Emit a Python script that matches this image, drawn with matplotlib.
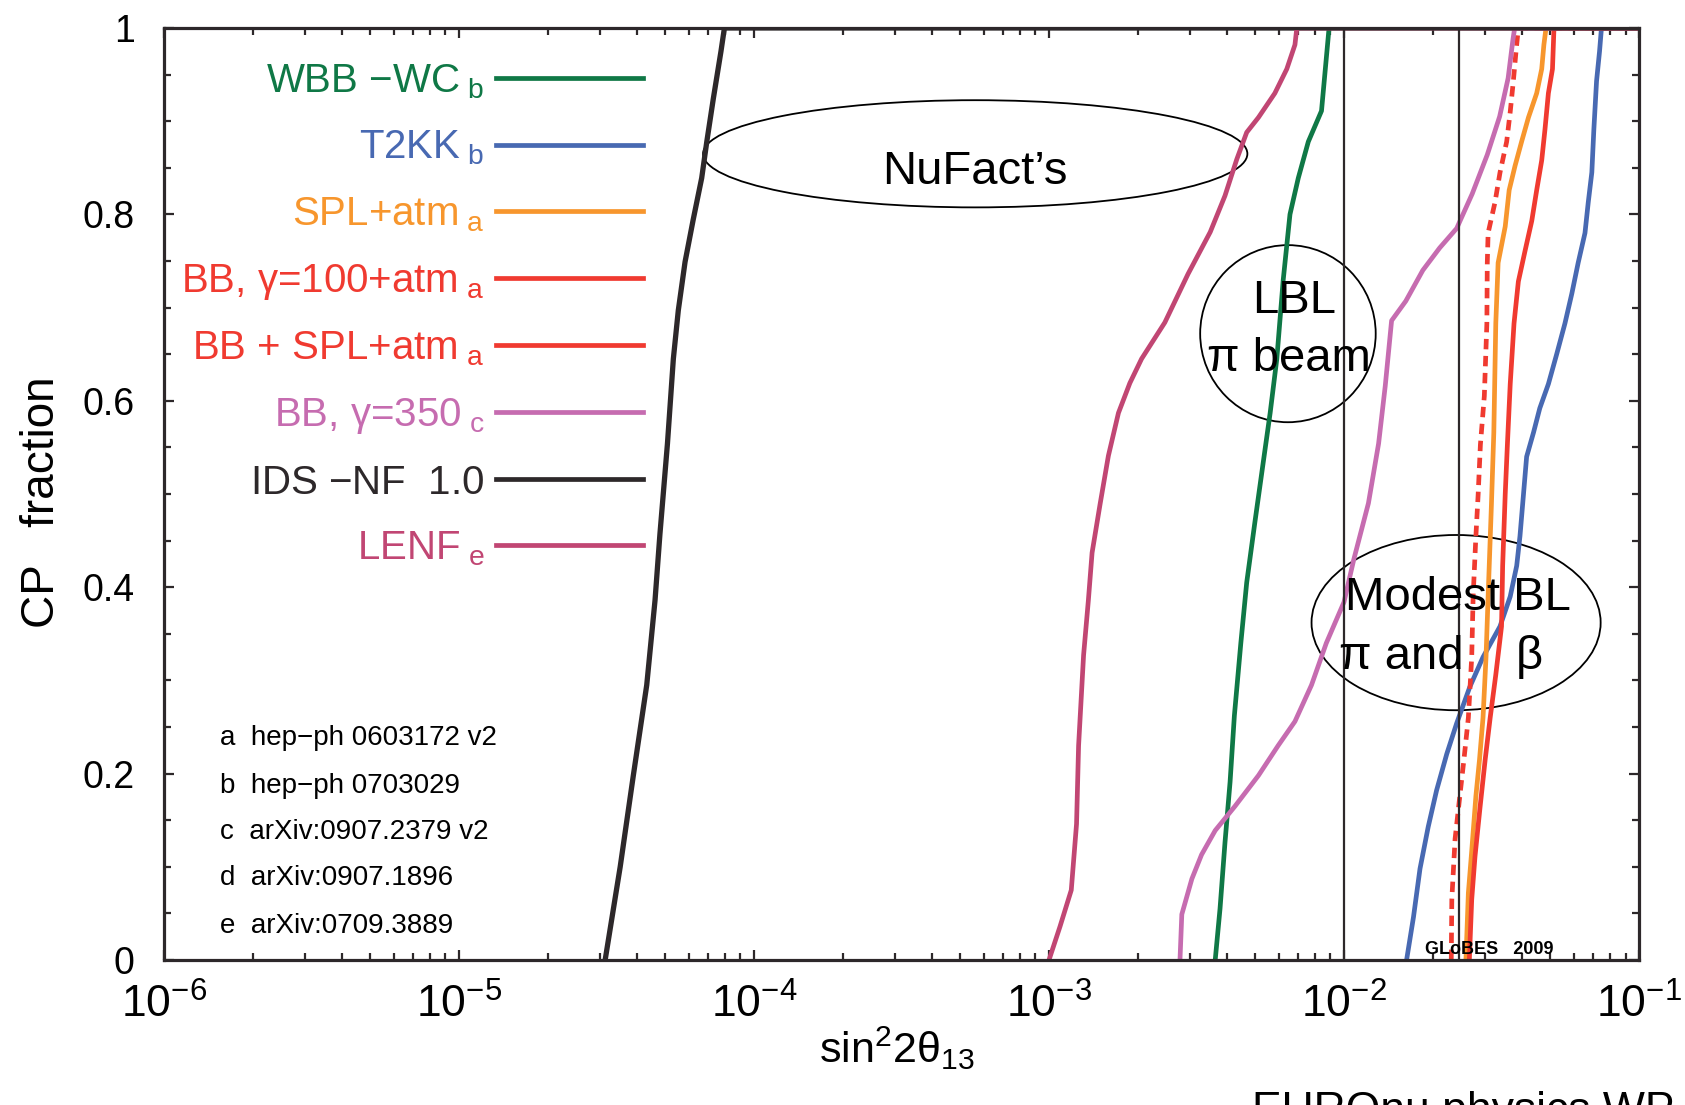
import matplotlib
matplotlib.use("Agg")
import matplotlib.pyplot as plt
from matplotlib.lines import Line2D
from matplotlib.patches import Ellipse
from matplotlib.ticker import MultipleLocator, LogLocator, NullFormatter

plt.rcParams['font.family'] = ['Liberation Sans', 'DejaVu Sans']
plt.rcParams['mathtext.fontset'] = 'custom'
plt.rcParams['mathtext.rm'] = 'Liberation Sans'
plt.rcParams['mathtext.it'] = 'Liberation Sans:italic'
plt.rcParams['mathtext.bf'] = 'Liberation Sans:bold'

# sin^2 2theta13 reach vs CP fraction
wbb_f = [0.0, 0.055, 0.126, 0.191, 0.262, 0.34, 0.405, 0.47, 0.535, 0.587, 0.645,
         0.729, 0.80, 0.839, 0.878, 0.911, 0.95, 1.0, 1.0]
wbb_x = [3.66e-3, 3.80e-3, 3.95e-3, 4.11e-3, 4.25e-3, 4.47e-3, 4.68e-3, 4.99e-3, 5.33e-3,
         5.62e-3, 5.92e-3, 6.22e-3, 6.56e-3, 7.00e-3, 7.57e-3, 8.39e-3, 8.61e-3, 8.9e-3, 0.1]

t2kk_f = [0.0, 0.046, 0.098, 0.143, 0.182, 0.221, 0.254, 0.293, 0.325, 0.358, 0.39, 0.423,
          0.455, 0.50, 0.54, 0.566, 0.592, 0.618, 0.65, 0.683, 0.715, 0.748, 0.78, 0.813,
          0.845, 0.891, 0.943, 0.975, 1.0, 1.0]
t2kk_x = [1.63e-2, 1.72e-2, 1.81e-2, 1.93e-2, 2.06e-2, 2.23e-2, 2.41e-2, 2.67e-2, 2.96e-2,
          3.38e-2, 3.66e-2, 3.85e-2, 3.95e-2, 4.06e-2, 4.16e-2, 4.39e-2, 4.61e-2, 4.93e-2,
          5.26e-2, 5.61e-2, 5.92e-2, 6.22e-2, 6.56e-2, 6.73e-2, 6.92e-2, 7.03e-2, 7.18e-2,
          7.35e-2, 7.46e-2, 0.1]

spl_f = [0.0, 0.072, 0.117, 0.176, 0.215, 0.26, 0.325, 0.39, 0.488, 0.566, 0.683, 0.748,
         0.787, 0.826, 0.852, 0.878, 0.904, 0.93, 0.956, 0.982, 1.0, 1.0]
spl_x = [2.59e-2, 2.64e-2, 2.71e-2, 2.80e-2, 2.88e-2, 2.96e-2, 3.03e-2, 3.08e-2, 3.16e-2,
         3.22e-2, 3.27e-2, 3.33e-2, 3.52e-2, 3.63e-2, 3.80e-2, 4.00e-2, 4.22e-2, 4.50e-2,
         4.68e-2, 4.76e-2, 4.84e-2, 0.1]

bb100_f = [0.0, 0.065, 0.111, 0.163, 0.215, 0.26, 0.306, 0.358, 0.423, 0.50, 0.553, 0.618,
           0.683, 0.728, 0.761, 0.793, 0.826, 0.858, 0.891, 0.93, 0.956, 1.0, 1.0]
bb100_x = [2.66e-2, 2.71e-2, 2.78e-2, 2.89e-2, 3.01e-2, 3.13e-2, 3.27e-2, 3.42e-2, 3.45e-2,
           3.52e-2, 3.58e-2, 3.66e-2, 3.77e-2, 3.90e-2, 4.11e-2, 4.33e-2, 4.50e-2, 4.68e-2,
           4.80e-2, 4.93e-2, 5.09e-2, 5.15e-2, 0.1]

bbspl_f = [0.0, 0.065, 0.13, 0.176, 0.215, 0.26, 0.325, 0.39, 0.455, 0.50, 0.553, 0.605,
           0.683, 0.748, 0.78, 0.813, 0.845, 0.878, 0.91, 0.943, 0.975, 1.0, 1.0]
bbspl_x = [2.31e-2, 2.32e-2, 2.38e-2, 2.47e-2, 2.55e-2, 2.64e-2, 2.71e-2, 2.74e-2, 2.80e-2,
           2.85e-2, 2.90e-2, 2.99e-2, 3.05e-2, 3.06e-2, 3.08e-2, 3.25e-2, 3.38e-2, 3.56e-2,
           3.66e-2, 3.75e-2, 3.83e-2, 3.90e-2, 0.1]

bb350_f = [0.0, 0.049, 0.087, 0.113, 0.139, 0.165, 0.198, 0.23, 0.256, 0.295, 0.34, 0.384,
           0.43, 0.49, 0.554, 0.616, 0.686, 0.707, 0.74, 0.764, 0.785, 0.822, 0.864, 0.905,
           0.946, 0.988, 1.0, 1.0]
bb350_x = [2.78e-3, 2.82e-3, 3.05e-3, 3.29e-3, 3.66e-3, 4.27e-3, 5.13e-3, 5.98e-3, 6.82e-3,
           7.76e-3, 8.71e-3, 1.0e-2, 1.08e-2, 1.21e-2, 1.31e-2, 1.38e-2, 1.45e-2, 1.62e-2,
           1.85e-2, 2.11e-2, 2.41e-2, 2.72e-2, 3.06e-2, 3.37e-2, 3.60e-2, 3.74e-2, 3.79e-2, 0.1]

ids_f = [0.0, 0.1, 0.198, 0.295, 0.386, 0.457, 0.554, 0.645, 0.697, 0.749, 0.794, 0.839,
         0.878, 0.924, 0.975, 1.0, 1.0]
ids_x = [3.13e-5, 3.52e-5, 3.90e-5, 4.33e-5, 4.62e-5, 4.80e-5, 5.09e-5, 5.33e-5, 5.54e-5,
         5.84e-5, 6.22e-5, 6.65e-5, 6.92e-5, 7.28e-5, 7.73e-5, 7.94e-5, 0.1]

lenf_f = [0.0, 0.036, 0.075, 0.146, 0.23, 0.327, 0.386, 0.437, 0.489, 0.541, 0.587, 0.619,
          0.645, 0.684, 0.736, 0.781, 0.82, 0.859, 0.888, 0.904, 0.93, 0.956, 0.982, 1.0, 1.0]
lenf_x = [1.0e-3, 1.09e-3, 1.19e-3, 1.24e-3, 1.26e-3, 1.31e-3, 1.36e-3, 1.40e-3, 1.49e-3,
          1.59e-3, 1.72e-3, 1.88e-3, 2.06e-3, 2.47e-3, 2.96e-3, 3.52e-3, 3.95e-3, 4.33e-3,
          4.68e-3, 5.13e-3, 5.83e-3, 6.40e-3, 6.82e-3, 6.92e-3, 0.1]

vlines_x = [1.0e-2, 2.45e-2]

labels = ['WBB $-$WC$_{\\rm \\ b}$', 'T2KK$_{\\rm \\ b}$', 'SPL+atm$_{\\rm \\ a}$',
          'BB, γ=100+atm$_{\\rm \\ a}$', 'BB + SPL+atm$_{\\rm \\ a}$',
          'BB, γ=350$_{\\rm \\ c}$', 'IDS $-$NF  1.0', 'LENF$_{\\rm \\ e}$']
colors = ['#0f7846', '#4869b2', '#f7962d', '#f03a30', '#f03a30', '#c66cb0', '#2d282a', '#c14673']

refs = ['a  hep−ph 0603172 v2', 'b  hep−ph 0703029', 'c  arXiv:0907.2379 v2',
        'd  arXiv:0907.1896', 'e  arXiv:0709.3889']
refs_f = [0.238, 0.187, 0.137, 0.088, 0.036]

dark = '#2d282a'
fig = plt.figure(figsize=(16.85, 11.05), dpi=100)
ax = fig.add_axes([0.0973, 0.1312, 0.8754, 0.8435])

lw = 3.4
ax.plot(wbb_x, wbb_f, color=colors[0], lw=lw)
ax.plot(t2kk_x, t2kk_f, color=colors[1], lw=lw)
ax.plot(spl_x, spl_f, color=colors[2], lw=lw)
ax.plot(bb100_x, bb100_f, color=colors[3], lw=lw)
ax.plot(bbspl_x, bbspl_f, color=colors[4], lw=lw, ls=(0, (2.2, 1.4)))
ax.plot(bb350_x, bb350_f, color=colors[5], lw=lw)
ax.plot(ids_x, ids_f, color=colors[6], lw=3.8)
ax.plot(lenf_x, lenf_f, color=colors[7], lw=lw)
for xv in vlines_x:
    ax.axvline(xv, color=dark, lw=1.6)

ax.set_xscale('log')
ax.set_xlim(1e-6, 1e-1)
ax.set_ylim(0, 1)
ax.yaxis.set_major_locator(MultipleLocator(0.2))
ax.yaxis.set_minor_locator(MultipleLocator(0.05))
ax.xaxis.set_minor_locator(LogLocator(base=10, subs=range(2, 10)))
ax.xaxis.set_minor_formatter(NullFormatter())
ax.set_yticks([0, 0.2, 0.4, 0.6, 0.8, 1.0], ['0', '0.2', '0.4', '0.6', '0.8', '1'])
ax.tick_params(which='both', direction='in', top=True, right=True, color=dark, width=1.6)
ax.tick_params(which='major', length=7.5)
ax.tick_params(which='minor', length=5)
ax.tick_params(axis='y', labelsize=27, pad=21)
ax.tick_params(axis='x', labelsize=32, pad=17)
for s in ax.spines.values():
    s.set_linewidth(2.3)
    s.set_color(dark)

ax.set_xlabel('sin$^{2}$2θ$_{13}$', fontsize=31)
ax.xaxis.set_label_coords(0.497, -0.069)
ax.set_ylabel('CP   fraction', fontsize=33)
ax.yaxis.set_label_coords(-0.068, 0.491)

# key, gnuplot style: text on the left, sample line on the right
handles = [Line2D([], [], color=c, lw=lw) for c in colors]
leg = ax.legend(handles, labels, loc='upper right', bbox_to_anchor=(0.325, 0.963),
                markerfirst=False, frameon=False, fontsize=29, handlelength=3.65,
                handletextpad=0.3, labelspacing=0.69, borderpad=0, borderaxespad=0)
for t, c in zip(leg.get_texts(), colors):
    t.set_color(c)

for r, yf in zip(refs, refs_f):
    ax.text(0.038, yf, r, transform=ax.transAxes, fontsize=20, va='center', ha='left',
            color='black')

# annotation ellipses
ell = dict(transform=ax.transAxes, fill=False, ec='black', lw=1.3)
ax.add_patch(Ellipse((0.550, 0.865), 0.369, 0.115, **ell))
ax.add_patch(Ellipse((0.762, 0.672), 0.119, 0.190, **ell))
ax.add_patch(Ellipse((0.876, 0.362), 0.196, 0.188, **ell))
txt = dict(transform=ax.transAxes, fontsize=34, ha='center', va='center', color='black')
ax.text(0.550, 0.845, 'NuFact’s', **txt)
ax.text(0.766, 0.707, 'LBL', **txt)
ax.text(0.763, 0.645, 'π beam', **txt)
ax.text(0.877, 0.388, 'Modest BL', **txt)
ax.text(0.866, 0.325, 'π and    β', **txt)
ax.text(0.855, 0.006, 'GLoBES   2009', transform=ax.transAxes, fontsize=13,
        weight='bold', ha='left', va='baseline')

fig.text(1252 / 1685, -0.0163, 'EUROnu physics WP', fontsize=32,
         ha='left', va='baseline')

fig.savefig('out.png', dpi=100)
